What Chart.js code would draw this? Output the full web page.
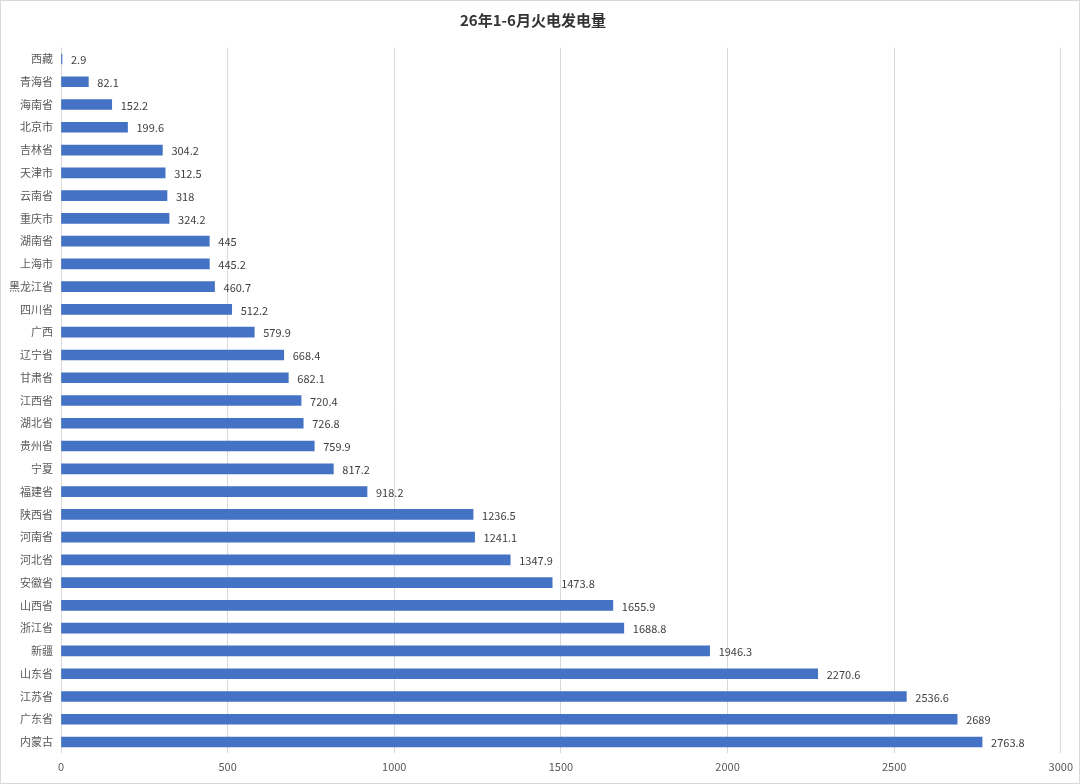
<!DOCTYPE html>
<html><head><meta charset="utf-8">
<script src="https://cdn.jsdelivr.net/npm/chart.js@4/dist/chart.umd.min.js"></script>
<style>html,body{margin:0;padding:0;background:#fff}#wrap{width:1080px;height:784px;position:relative}</style>
</head><body><div id="wrap"><canvas id="c" width="1080" height="784"></canvas></div>
<script>
const titleText = '26年1-6月火电发电量';
const categories = ['西藏','青海省','海南省','北京市','吉林省','天津市','云南省','重庆市','湖南省','上海市','黑龙江省','四川省','广西','辽宁省','甘肃省','江西省','湖北省','贵州省','宁夏','福建省','陕西省','河南省','河北省','安徽省','山西省','浙江省','新疆','山东省','江苏省','广东省','内蒙古'];
const values = [2.9,82.1,152.2,199.6,304.2,312.5,318,324.2,445,445.2,460.7,512.2,579.9,668.4,682.1,720.4,726.8,759.9,817.2,918.2,1236.5,1241.1,1347.9,1473.8,1655.9,1688.8,1946.3,2270.6,2536.6,2689,2763.8];
const xMin = 0, xMax = 3000, xStep = 500;

const labelPlugin = {
  id: 'barLabels',
  afterDatasetsDraw(chart) {
    const ctx = chart.ctx;
    const meta = chart.getDatasetMeta(0);
    ctx.save();
    ctx.font = '11px "Noto Sans CJK SC", "Noto Sans", sans-serif';
    ctx.fillStyle = '#404040';
    ctx.textAlign = 'left';
    ctx.textBaseline = 'middle';
    meta.data.forEach((bar, i) => {
      ctx.fillText(String(values[i]), bar.x + 9, bar.y + 1);
    });
    ctx.restore();
  }
};
const borderPlugin = {
  id: 'frame',
  afterDraw(chart) {
    const ctx = chart.ctx;
    ctx.save();
    ctx.strokeStyle = '#d9d9d9';
    ctx.lineWidth = 1;
    ctx.strokeRect(0.5, 0.5, chart.width - 1, chart.height - 1);
    ctx.restore();
  }
};

new Chart(document.getElementById('c'), {
  type: 'bar',
  data: { labels: categories, datasets: [{ data: values, backgroundColor: '#4472C4', barThickness: 10 }] },
  options: {
    indexAxis: 'y',
    responsive: false,
    animation: false,
    devicePixelRatio: 1,
    layout: { padding: { left: 0, right: 14, top: 0, bottom: 0 } },
    plugins: {
      legend: { display: false },
      tooltip: { enabled: false },
      title: { display: true, text: titleText, color: '#333333',
        font: { size: 15, weight: 'bold', family: '"Noto Sans CJK SC", sans-serif' },
        padding: { top: 11, bottom: 18.6 } }
    },
    scales: {
      x: {
        min: xMin, max: xMax,
        ticks: { stepSize: xStep, color: '#595959', font: { size: 11, family: '"Noto Sans CJK SC", sans-serif' }, padding: 7,
          callback: v => String(v) },
        grid: { color: '#d9d9d9', drawTicks: false },
        border: { display: false },
        afterFit(s) { s.height = 30.6; }
      },
      y: {
        ticks: { color: '#595959', font: { size: 11, family: '"Noto Sans CJK SC", sans-serif' }, padding: 8, autoSkip: false },
        grid: { display: false, drawTicks: false },
        border: { display: false },
        afterFit(s) { s.width = 61; }
      }
    }
  },
  plugins: [labelPlugin, borderPlugin]
});
</script></body></html>
